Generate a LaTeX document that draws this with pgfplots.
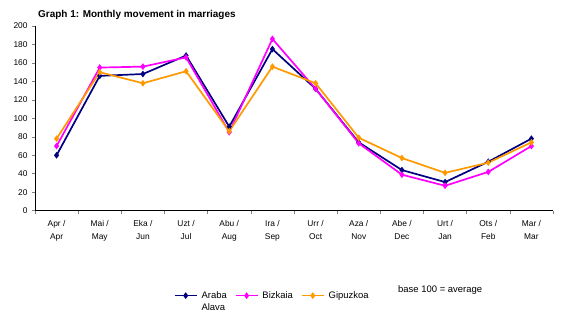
\documentclass[border=0pt]{standalone}
\usepackage{pgfplots}
\pgfplotsset{compat=1.18}
\usepackage{fontspec}
\setmainfont{Liberation Sans}
\definecolor{cAraba}{HTML}{000080}
\definecolor{cBizkaia}{HTML}{FF00FF}
\definecolor{cGipuzkoa}{HTML}{FF9900}
\begin{document}
\begin{tikzpicture}[x=1bp,y=1bp]
\path[use as bounding box] (0,0) rectangle (567,322);
\node[anchor=base west,font=\bfseries\fontsize{10}{12}\selectfont,inner sep=0pt] at (38,305) {Graph 1: Monthly movement in marriages};
\node[anchor=base west,font=\fontsize{9.5}{11}\selectfont,inner sep=0pt] at (398,30) {base 100 = average};
\begin{axis}[
  at={(35bp,111.3bp)}, anchor=south west,
  scale only axis, width=518bp, height=184.7bp,
  xmin=0, xmax=12, ymin=0, ymax=200,
  axis x line*=bottom, axis y line*=left,
  axis line style={-, line width=0.6pt},
  ytick={0,20,...,200},
  xtick={0.5,1.5,...,11.5},
  minor xtick={0,1,...,12},
  xticklabels={{Apr /\\Apr},{Mai /\\May},{Eka /\\Jun},{Uzt /\\Jul},{Abu /\\Aug},{Ira /\\Sep},{Urr /\\Oct},{Aza /\\Nov},{Abe /\\Dec},{Urt /\\Jan},{Ots /\\Feb},{Mar /\\Mar}},
  major x tick style={draw=none},
  minor x tick style={line width=0.6pt},
  tick align=outside,
  major tick length=3bp, minor tick length=3bp,
  y tick style={line width=0.6pt},
  tick label style={font=\fontsize{8.4}{13}\selectfont},
  xticklabel style={align=center, yshift=-3bp},
  yticklabel style={xshift=-1bp},
  /pgf/number format/assume math mode=true,
  legend columns=3,
  legend style={draw=none, fill=none, at={(0.458,-0.41)}, anchor=north,
    font=\fontsize{9.5}{11.5}\selectfont, column sep=2bp,
    /tikz/every even column/.append style={column sep=6bp},
    nodes={anchor=base west}},
  legend cell align=left,
  legend image code/.code={\draw[#1, mark repeat=2, mark phase=2] plot coordinates {(0bp,3bp) (11bp,3bp) (22bp,3bp)};},
  every axis plot/.append style={line width=1.7pt, mark=diamond*, mark size=2bp, mark options={solid}},
]
\addplot[color=cAraba] coordinates {(0.5,60) (1.5,146) (2.5,148) (3.5,168) (4.5,91) (5.5,175) (6.5,132) (7.5,74) (8.5,44) (9.5,31) (10.5,53) (11.5,78)};
\addlegendentry{\begin{tabular}[t]{@{}l@{}}Araba\\Alava\end{tabular}}
\addplot[color=cBizkaia] coordinates {(0.5,70) (1.5,155) (2.5,156) (3.5,166) (4.5,85) (5.5,186) (6.5,132) (7.5,73) (8.5,39) (9.5,27) (10.5,42) (11.5,70)};
\addlegendentry{Bizkaia}
\addplot[color=cGipuzkoa] coordinates {(0.5,78) (1.5,150) (2.5,138) (3.5,151) (4.5,86) (5.5,156) (6.5,138) (7.5,79) (8.5,57) (9.5,41) (10.5,52) (11.5,74)};
\addlegendentry{Gipuzkoa}
\end{axis}
\end{tikzpicture}
\end{document}
